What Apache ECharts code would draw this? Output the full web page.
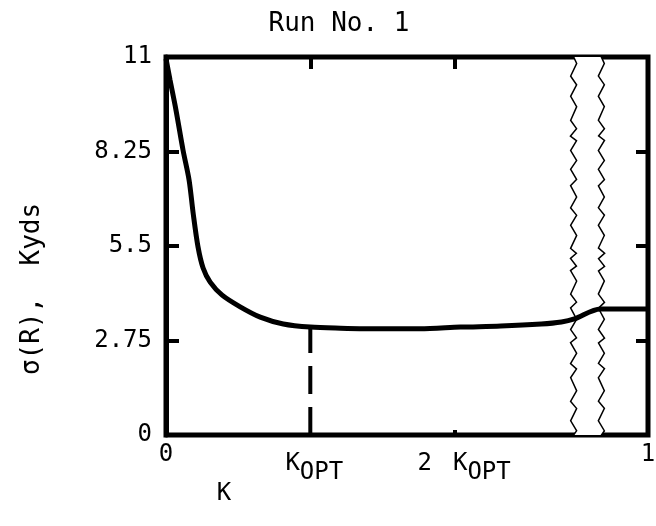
<!DOCTYPE html>
<html>
<head>
<meta charset="utf-8">
<script src="https://cdn.jsdelivr.net/npm/echarts@6/dist/echarts.min.js"></script>
<style>html,body{margin:0;padding:0;background:#fff}#c{width:656px;height:526px}</style>
</head>
<body>
<div id="c"></div>
<script>
// K values (K_OPT taken as 0.1 on the K scale) and sigma(R) in Kyds
var kValues     = [0, 0.0028, 0.0069, 0.0118, 0.016, 0.0188, 0.0222, 0.0257, 0.0306, 0.0389, 0.0514, 0.0653, 0.0813, 0.1, 0.121, 0.149, 0.176, 0.204, 0.232, 0.26, 0.274, 0.283, 0.967, 1.0];
var sigmaValues = [10.95, 10.33, 9.46, 8.29, 7.42, 6.46, 5.47, 4.86, 4.45, 4.07, 3.73, 3.43, 3.23, 3.14, 3.11, 3.09, 3.09, 3.14, 3.17, 3.23, 3.29, 3.38, 3.67, 3.67];
var kOpt = 0.1;
var kOptSigma = 3.14;
var yTicks = [0, 2.75, 5.5, 8.25, 11];
var yTickMarks = [2.75, 5.5, 8.25];
var xTickValues = [0, 0.1, 0.2, 1];
var xTickMarks = [0.1, 0.2];
var xTickTexts = ['0', '{k|K}{s|OPT}', '{n|2}{g|K}{s|OPT}', '1'];
var breakStart = 0.283, breakEnd = 0.967, breakGap = 0.018;
var titleText = 'Run No. 1';
var yName = 'σ(R),  Kyds';
var xName = 'K';

var FONT = 'DejaVu Sans Mono';
var chart = echarts.init(document.getElementById('c'), null, {renderer: 'canvas'});

var curve = kValues.map(function (k, i) { return [k, sigmaValues[i]]; });
var breakCfg = [{start: breakStart, end: breakEnd, gap: breakGap}];
var breakArea = {
  show: true,
  expandOnClick: false,
  zigzagAmplitude: 3,
  zigzagMinSpan: 4,
  zigzagMaxSpan: 14,
  zigzagZ: 1,
  itemStyle: {color: '#fff', borderColor: '#000', borderWidth: 3, borderType: 'solid', opacity: 1}
};
var hiddenLabel = {show: true, color: 'rgba(0,0,0,0)', fontSize: 1, formatter: function () { return ''; }};

chart.setOption({
  animation: false,
  backgroundColor: '#fff',
  grid: {left: 166, right: 8, top: 57, bottom: 91, outerBoundsMode: 'none', containLabel: false,
         show: true, borderColor: '#000', borderWidth: 5, backgroundColor: 'transparent'},
  xAxis: [{
    type: 'value', min: 0, max: 1, position: 'bottom',
    breaks: breakCfg, breakArea: breakArea,
    splitLine: {show: false},
    axisLine: {show: false, onZero: false},
    axisTick: {show: true, inside: true, length: 5, customValues: [0.2], lineStyle: {color: '#000', width: 4}},
    axisLabel: {
      show: true, margin: 8, customValues: xTickValues,
      color: '#000', fontFamily: FONT, fontSize: 24,
      formatter: function (v) {
        for (var i = 0; i < xTickValues.length; i++) if (Math.abs(v - xTickValues[i]) < 1e-9) return xTickTexts[i];
        return '';
      },
      rich: {
        k: {fontFamily: FONT, fontSize: 24, color: '#000', padding: [0, 0, 0, 8]},
        g: {fontFamily: FONT, fontSize: 24, color: '#000', padding: [0, 0, 0, 21]},
        s: {fontFamily: FONT, fontSize: 24, color: '#000', padding: [18, 0, 0, 0]},
        n: {fontFamily: FONT, fontSize: 24, color: '#000', padding: [0, 0, 0, 19]}
      }
    }
  }, {
    type: 'value', min: 0, max: 1, position: 'top',
    breaks: breakCfg, breakArea: {show: false},
    splitLine: {show: false},
    axisLine: {show: false, onZero: false},
    axisTick: {show: true, inside: true, length: 12, customValues: xTickMarks, lineStyle: {color: '#000', width: 4}},
    axisLabel: hiddenLabel
  }],
  yAxis: [{
    type: 'value', min: 0, max: 11, interval: 2.75, position: 'left',
    splitLine: {show: false},
    axisLine: {show: true, onZero: false, lineStyle: {color: '#000', width: 5}},
    axisTick: {show: true, inside: true, length: 13, lineStyle: {color: '#000', width: 4}},
    axisLabel: {
      margin: 14, color: '#000', fontFamily: FONT, fontSize: 24,
      formatter: function (v) { return String(v); }
    }
  }, {
    type: 'value', min: 0, max: 11, interval: 2.75, position: 'right',
    splitLine: {show: false},
    axisLine: {show: false, onZero: false},
    axisTick: {show: true, inside: true, length: 12, customValues: yTickMarks, lineStyle: {color: '#000', width: 4}},
    axisLabel: hiddenLabel
  }],
  series: [{
    type: 'line', xAxisIndex: 0, yAxisIndex: 0, z: 50,
    data: curve, showSymbol: false, smooth: 0.3,
    lineStyle: {color: '#000', width: 5}
  }, {
    type: 'line', xAxisIndex: 0, yAxisIndex: 0, z: 49,
    data: [[kOpt, 0], [kOpt, kOptSigma]], showSymbol: false,
    lineStyle: {color: '#000', width: 4, type: [28, 13]}
  }],
  graphic: [
    {type: 'text', x: 339, y: 24, style: {text: titleText, font: '26px "DejaVu Sans Mono"', fill: '#000', align: 'center', verticalAlign: 'middle'}},
    {type: 'text', x: 32, y: 289, rotation: Math.PI / 2, style: {text: yName, font: '26px "DejaVu Sans Mono"', fill: '#000', align: 'center', verticalAlign: 'middle'}},
    {type: 'text', x: 224, y: 494, style: {text: xName, font: '24px "DejaVu Sans Mono"', fill: '#000', align: 'center', verticalAlign: 'middle'}}
  ]
});
</script>
</body>
</html>
